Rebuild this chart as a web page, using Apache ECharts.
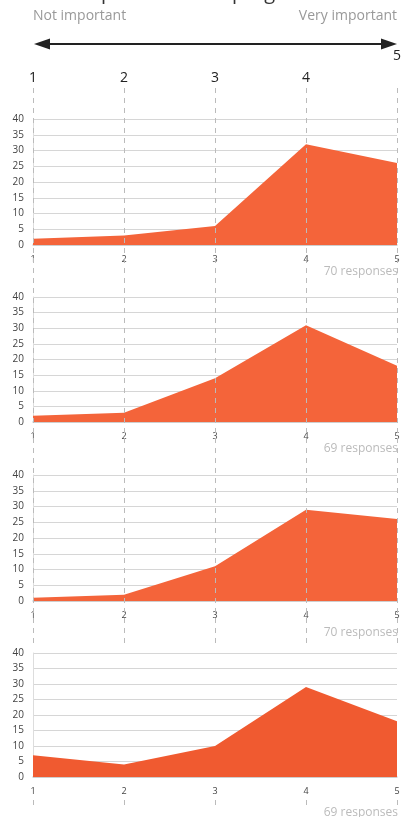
<!DOCTYPE html>
<html><head><meta charset="utf-8">
<script src="https://cdn.jsdelivr.net/npm/echarts@6/dist/echarts.min.js"></script>
<style>html,body{margin:0;padding:0;background:#fff}#c{width:408px;height:817px}</style>
</head><body><div id="c"></div>
<script>
const categories = ['1', '2', '3', '4', '5'];
const series1 = [2, 3, 6, 32, 26];
const series2 = [2, 3, 14, 31, 18];
const series3 = [1, 2, 11, 29, 26];
const series4 = [7, 4, 10, 29, 18];
const responses = ['70 responses', '69 responses', '70 responses', '69 responses'];
const scaleLabels = ['Not important', 'Very important'];
const titleText = 'How important is the program?';
const yMin = 0, yMax = 40, yStep = 5;

const FONT = '"Open Sans", "Noto Sans", sans-serif';
const allSeries = [series1, series2, series3, series4];
const colors = ['#f4643a', '#f4643a', '#f4643a', '#f05a30'];
const chartTops = [119, 297, 475, 653];
const chartHeights = [126, 125, 126, 124];
const respTops = [266, 443, 627, 807];

const grids = [];
const xAxes = [];
const yAxes = [];
const seriesOpts = [];

// background dashed guide grid (top part, over charts 1-3)
grids.push({ left: 33, right: 11, top: 88, height: 559 });
xAxes.push({
  gridIndex: 0, type: 'category', data: categories, boundaryGap: false, position: 'top', z: 5,
  axisLine: { show: false }, axisTick: { show: false },
  axisLabel: {
    show: true, margin: 3, interval: 0,
    formatter: v => v === '5' ? '{hi|' + v + '}' : '{n|' + v + '}',
    rich: {
      n: { fontSize: 14, color: '#222', fontFamily: FONT },
      hi: { fontSize: 14, color: '#222', fontFamily: FONT, padding: [0, 0, 22, 0] }
    }
  },
  splitLine: { show: true, interval: 0, lineStyle: { color: '#bbb', width: 1, type: [5, 5] } }
});
yAxes.push({ gridIndex: 0, type: 'value', show: false, min: 0, max: 1 });

// background dashed guide grid (below chart 4)
grids.push({ left: 33, right: 11, top: 800, height: 8 });
xAxes.push({
  gridIndex: 1, type: 'category', data: categories, boundaryGap: false, z: 5,
  axisLine: { show: false }, axisTick: { show: false }, axisLabel: { show: false },
  splitLine: { show: true, interval: 0, lineStyle: { color: '#bbb', width: 1, type: [5, 5] } }
});
yAxes.push({ gridIndex: 1, type: 'value', show: false, min: 0, max: 1 });

const graphics = [];
allSeries.forEach((data, i) => {
  const gi = i + 2;
  grids.push({ left: 33, right: 11, top: chartTops[i], height: chartHeights[i],
    show: i === 3, backgroundColor: '#fff', borderWidth: 0 });
  xAxes.push({
    gridIndex: gi, type: 'category', data: categories, boundaryGap: false,
    axisLine: { show: true, lineStyle: { color: '#ccc', width: 1.5 } },
    axisTick: { show: false },
    axisLabel: { fontSize: 9, color: '#444', margin: 10, fontFamily: FONT, interval: 0 },
    splitLine: { show: false }
  });
  yAxes.push({
    gridIndex: gi, type: 'value', min: yMin, max: yMax, interval: yStep,
    axisLine: { show: true, lineStyle: { color: '#ddd' } },
    axisTick: { show: false },
    axisLabel: { fontSize: 10, color: '#444', margin: 9, fontFamily: FONT },
    splitLine: { show: true, lineStyle: { color: '#d6d6d6', width: 1.2 } }
  });
  seriesOpts.push({
    type: 'line', xAxisIndex: gi, yAxisIndex: gi, data: data, symbol: 'none',
    lineStyle: { width: 0 }, areaStyle: { color: colors[i], opacity: 1 },
    itemStyle: { color: colors[i] }, silent: true, z: 2
  });
  graphics.push({
    type: 'text', right: 10, top: respTops[i],
    style: { text: responses[i], fill: '#bbb', font: '12px ' + FONT }
  });
});

graphics.push(
  { type: 'text', left: 30, top: -17, style: { text: titleText, fill: '#333', font: '20px ' + FONT } },
  { type: 'text', left: 33, top: 9, style: { text: scaleLabels[0], fill: '#999', font: '14px ' + FONT } },
  { type: 'text', right: 11, top: 9, style: { text: scaleLabels[1], fill: '#999', font: '14px ' + FONT } },
  { type: 'line', shape: { x1: 46, y1: 44, x2: 385, y2: 44 }, style: { stroke: '#222', lineWidth: 2 } },
  { type: 'polygon', shape: { points: [[34, 44], [50, 38.5], [50, 49.5]] }, style: { fill: '#222' } },
  { type: 'polygon', shape: { points: [[397, 44], [381, 38.5], [381, 49.5]] }, style: { fill: '#222' } }
);

const chart = echarts.init(document.getElementById('c'), null, { renderer: 'canvas' });
chart.setOption({
  animation: false,
  backgroundColor: '#fff',
  grid: grids, xAxis: xAxes, yAxis: yAxes, series: seriesOpts,
  graphic: graphics
});
</script>
</body></html>
